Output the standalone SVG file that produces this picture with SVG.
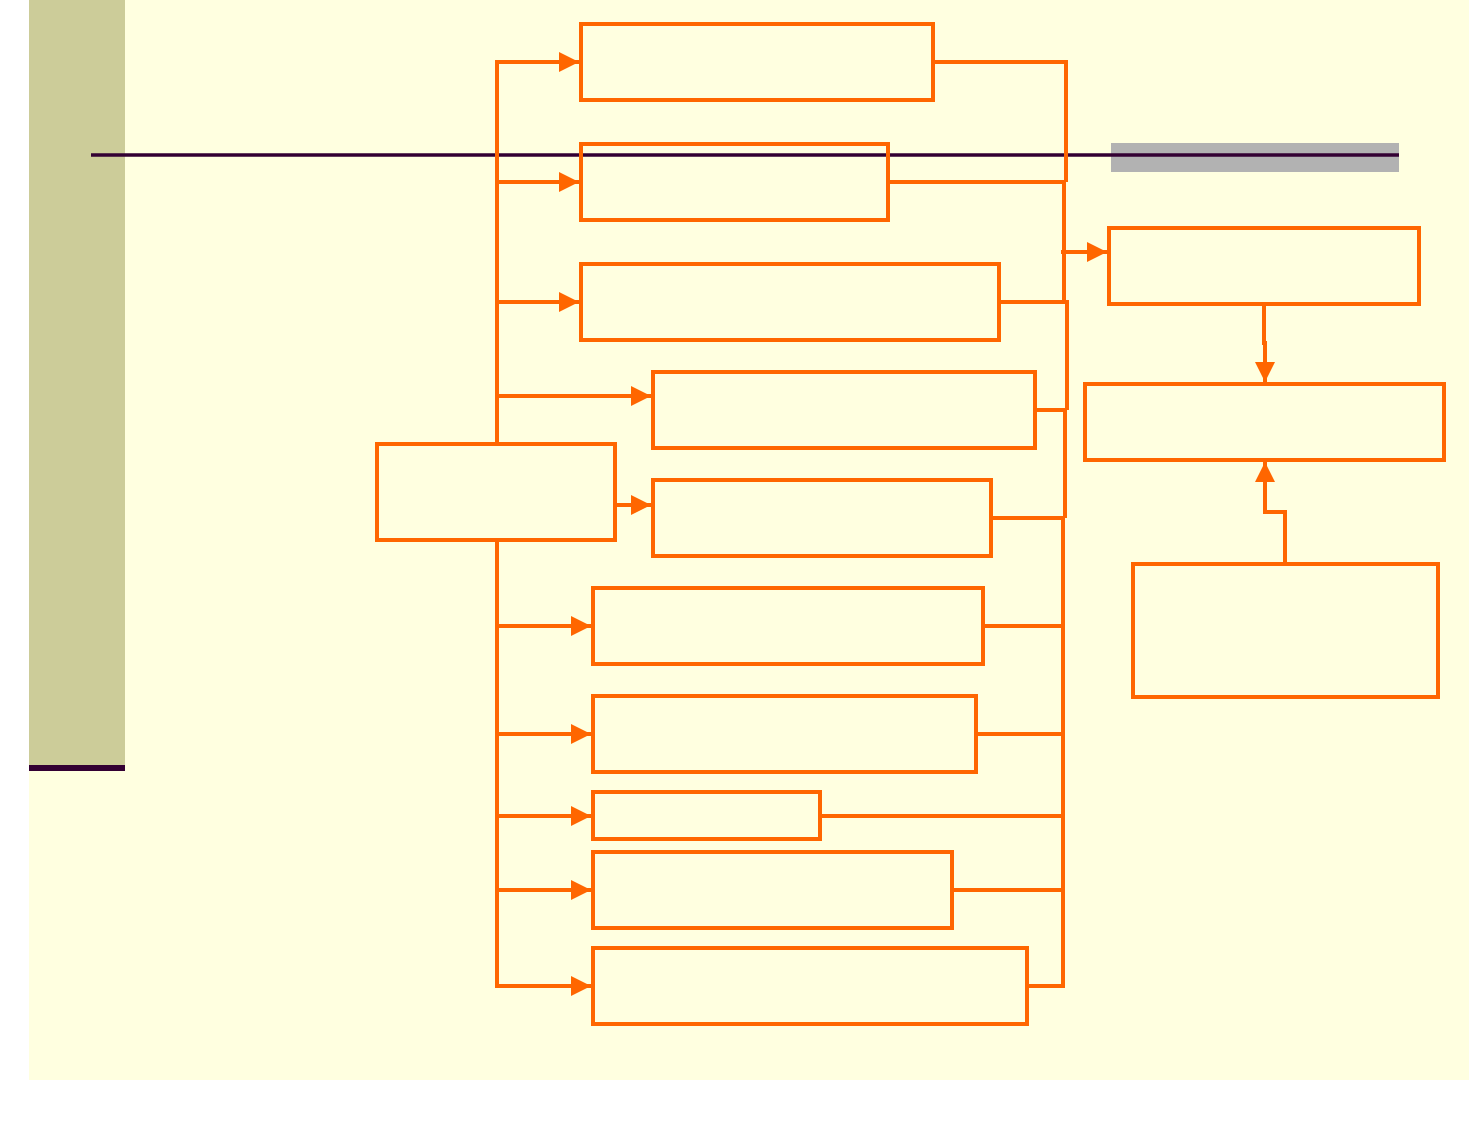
<svg xmlns="http://www.w3.org/2000/svg" width="1469" height="1133" viewBox="0 0 1469 1133">
<defs>
<style>
.box{fill:none;stroke:#FF6600;stroke-width:4}
.c{fill:none;stroke:#FF6600;stroke-width:4}
.a{fill:none;stroke:#FF6600;stroke-width:4;marker-end:url(#ah)}
</style>
<marker id="ah" viewBox="0 0 20 20" refX="20" refY="10" markerWidth="20" markerHeight="20" markerUnits="userSpaceOnUse" orient="auto">
<path d="M0,0 L20,10 L0,20 z" fill="#FF6600"/>
</marker>
</defs>
<rect x="0" y="0" width="1469" height="1133" fill="#FFFFFF"/>
<rect x="29" y="0" width="1440" height="1080" fill="#FFFFE0"/>
<rect x="29" y="0" width="96" height="765" fill="#CCCC99"/>
<rect x="29" y="765" width="96" height="6" fill="#330033"/>
<rect x="1111" y="143" width="288" height="29" fill="#B2B2B2"/>
<line x1="91" y1="155" x2="1399" y2="155" stroke="#330033" stroke-width="3.5"/>
<g id="connectors">
<path class="a" d="M497,444 V62 H579"/>
<path class="a" d="M497,182 H579"/>
<path class="a" d="M497,302 H579"/>
<path class="a" d="M497,396 H651"/>
<path class="a" d="M615,505 H651"/>
<path class="a" d="M497,540 V986 H591"/>
<path class="a" d="M497,626 H591"/>
<path class="a" d="M497,734 H591"/>
<path class="a" d="M497,816 H591"/>
<path class="a" d="M497,890 H591"/>
<path class="c" d="M933,62 H1066 V182"/>
<path class="c" d="M888,182 H1066"/>
<path class="c" d="M1064,182 V302"/>
<path class="c" d="M999,302 H1067 V410"/>
<path class="c" d="M1035,410 H1067"/>
<path class="c" d="M1065,410 V518"/>
<path class="c" d="M991,518 H1065"/>
<path class="c" d="M1063,518 V986 H1027"/>
<path class="c" d="M983,626 H1065"/>
<path class="c" d="M976,734 H1063"/>
<path class="c" d="M820,816 H1063"/>
<path class="c" d="M952,890 H1063"/>
<path class="a" d="M1061,252 H1107"/>
<path class="a" d="M1264,304 V343 H1265 V382"/>
<path class="a" d="M1285,564 V512 H1265 V462"/>
</g>
<g id="n_source"><rect class="box" x="377" y="444" width="238" height="96"/></g>
<g id="n1"><rect class="box" x="581" y="24" width="352" height="76"/></g>
<g id="n2"><rect class="box" x="581" y="144" width="307" height="76"/></g>
<g id="n3"><rect class="box" x="581" y="264" width="418" height="76"/></g>
<g id="n4"><rect class="box" x="653" y="372" width="382" height="76"/></g>
<g id="n5"><rect class="box" x="653" y="480" width="338" height="76"/></g>
<g id="n6"><rect class="box" x="593" y="588" width="390" height="76"/></g>
<g id="n7"><rect class="box" x="593" y="696" width="383" height="76"/></g>
<g id="n8"><rect class="box" x="593" y="792" width="227" height="47"/></g>
<g id="n9"><rect class="box" x="593" y="852" width="359" height="76"/></g>
<g id="n10"><rect class="box" x="593" y="948" width="434" height="76"/></g>
<g id="nA"><rect class="box" x="1109" y="228" width="310" height="76"/></g>
<g id="nB"><rect class="box" x="1085" y="384" width="359" height="76"/></g>
<g id="nC"><rect class="box" x="1133" y="564" width="305" height="133"/></g>
</svg>
